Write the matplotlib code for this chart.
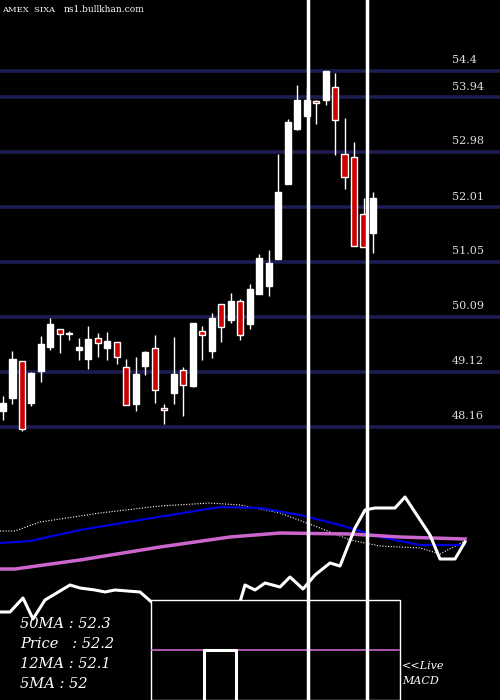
import matplotlib
matplotlib.use("Agg")
import matplotlib.pyplot as plt
from matplotlib.patches import Rectangle

# candle values (pixel rows converted to price)
def px2p(y):
    return 54.4 - (y - 71) * 0.017533

# (body top, body bottom, wick top, wick bottom, is_down) in pixel rows
raw = [
    (403, 411, 396, 420, 0), (359, 398, 351, 404, 0), (361, 429, 361, 431, 1),
    (373, 403, 372, 406, 0), (344, 371, 336, 382, 0), (324, 347, 318, 350, 0),
    (329, 334, 329, 353, 1), (333, 334, 331, 340, 0), (347, 350, 338, 360, 0),
    (339, 359, 326, 369, 0), (338, 343, 333, 357, 1), (341, 348, 332, 360, 0),
    (342, 357, 342, 364, 1), (367, 405, 359, 405, 1), (374, 404, 357, 411, 0),
    (352, 366, 351, 375, 0), (348, 390, 335, 403, 1), (408, 410, 404, 424, 1),
    (374, 393, 337, 404, 0), (370, 385, 367, 416, 1), (323, 386, 323, 387, 0),
    (331, 335, 326, 360, 1), (318, 351, 313, 358, 0), (304, 327, 304, 342, 1),
    (301, 320, 293, 323, 0), (301, 335, 299, 340, 1), (289, 324, 284, 329, 0),
    (258, 294, 254, 294, 0), (263, 286, 250, 296, 0), (192, 259, 154, 259, 0),
    (122, 184, 119, 184, 0), (100, 129, 85, 130, 0), (100, 116, 88, 116, 0),
    (101, 103, 100, 124, 1), (71, 100, 71, 105, 0), (87, 120, 73, 155, 1),
    (154, 177, 118, 189, 1), (157, 246, 142, 246, 1), (214, 247, 198, 247, 1),
    (198, 233, 192, 253, 0),
]
body_top = [px2p(r[0]) for r in raw]
body_bot = [px2p(r[1]) for r in raw]
highs = [px2p(r[2]) for r in raw]
lows = [px2p(r[3]) for r in raw]
down = [r[4] for r in raw]

grid_levels = [54.4, 53.94, 52.98, 52.01, 51.05, 50.09, 49.12, 48.16]

# lower pane lines: (x pixel, y pixel)
blue_x = [0, 30, 80, 140, 220, 260, 300, 340, 380, 420, 465]
blue_y = [543, 541, 530, 520, 507, 508, 515, 525, 537, 545, 545]
dot_x = [0, 15, 40, 100, 160, 210, 240, 280, 320, 350, 380, 420, 440, 465]
dot_y = [531, 531, 522, 513, 506, 503, 505, 513, 528, 540, 546, 548, 554, 541]
mag_x = [0, 15, 80, 160, 230, 280, 350, 400, 465]
mag_y = [569, 569, 560, 547, 537, 533, 534, 537, 539]
macd_x = [0, 10, 23, 33, 45, 70, 80, 95, 105, 115, 140, 155, 175, 185, 240,
          245, 255, 265, 280, 290, 303, 315, 330, 340, 355, 365, 375, 395, 405,
          430, 440, 455, 465]
macd_y = [612, 612, 598, 619, 600, 585, 588, 590, 592, 590, 592, 605, 606, 604,
          602, 585, 590, 583, 587, 577, 589, 575, 563, 566, 528, 510, 508, 508,
          497, 535, 559, 559, 542]

labels = ["50MA : 52.3", "Price   : 52.2", "12MA : 52.1", "5MA : 52"]

SP, X0 = 9.487, 3.0
def xi(px):
    return (px - X0) / SP

fig = plt.figure(figsize=(5, 7), dpi=100, facecolor="black")
ax = fig.add_axes([0, 260 / 700, 1, 440 / 700], facecolor="black")
lo = fig.add_axes([0, 0, 1, 260 / 700], facecolor="black")
xlim = (xi(0), xi(500))
for a in (ax, lo):
    a.set_xlim(*xlim)
    a.set_axis_off()
ax.set_ylim(px2p(440), px2p(0))
lo.set_ylim(700, 440)

for g in grid_levels:
    ax.axhline(g, color="#1c1c50", lw=2.6, zorder=1)
    ax.text(xi(452), g + 0.1, f"{g:g}", color="#dddddd", fontsize=8,
            family="DejaVu Serif", va="bottom", ha="left")

for i in range(len(raw)):
    ax.vlines(i, lows[i], highs[i], color="white", lw=1, zorder=2)
    h = max(body_top[i] - body_bot[i], 0.02)
    ax.add_patch(Rectangle((i - 0.32, body_bot[i]), 0.64, h,
                           facecolor="#cc0000" if down[i] else "white",
                           edgecolor="white", lw=1, zorder=3))

ax.text(xi(2), px2p(10), "AMEX  SIXA", color="white", fontsize=6,
        family="DejaVu Serif", va="center")
ax.text(xi(64), px2p(10), "ns1.bullkhan.com", color="white", fontsize=6.5,
        family="DejaVu Serif", va="center")

lo.plot([xi(v) for v in dot_x], dot_y, color="white", lw=0.8, ls=(0, (1, 1.5)))
lo.plot([xi(v) for v in blue_x], blue_y, color="#0000dd", lw=1.6)
lo.plot([xi(v) for v in mag_x], mag_y, color="#cc66cc", lw=2.5)
lo.plot([xi(v) for v in macd_x], macd_y, color="white", lw=2.2)

lo.add_patch(Rectangle((xi(151), 600), xi(400) - xi(151), 100,
                       facecolor="black", edgecolor="white", lw=1, zorder=4))
lo.plot([xi(152), xi(399)], [650, 650], color="#cc66cc", lw=1.2, zorder=5)
lo.plot([xi(204), xi(204), xi(236), xi(236)], [700, 650, 650, 700],
        color="white", lw=2.2, zorder=6)

for k, t in enumerate(labels):
    lo.text(xi(20), 624 + k * 20, t, color="white", fontsize=10.5,
            family="DejaVu Serif", style="italic", va="center")
lo.text(xi(402), 666, "<<Live", color="white", fontsize=8,
        family="DejaVu Serif", style="italic", va="center")
lo.text(xi(402), 681, "MACD", color="white", fontsize=8,
        family="DejaVu Serif", style="italic", va="center")

for px in (308, 367):
    for a in (ax, lo):
        a.axvline(xi(px), color="white", lw=2.5, zorder=7)

fig.savefig("out.png", dpi=100, facecolor="black")
